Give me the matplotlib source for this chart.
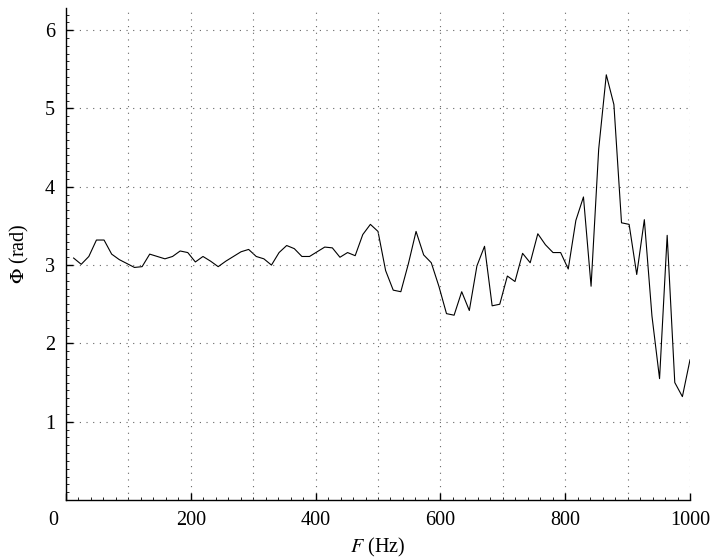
import numpy as np
import matplotlib
matplotlib.use('Agg')
import matplotlib.pyplot as plt
from matplotlib.ticker import MultipleLocator
import matplotlib.transforms as mtransforms

plt.rcParams['font.family'] = 'Liberation Serif'
plt.rcParams['mathtext.fontset'] = 'stix'

# frequency grid (82 equally spaced bins up to 1 kHz)
freq = np.linspace(1000 / 82, 1000, 82)

# phase values (rad)
phase = [
    3.09, 3.01, 3.11, 3.32, 3.32, 3.14, 3.07, 3.02, 2.97, 2.98,
    3.14, 3.11, 3.08, 3.11, 3.18, 3.16, 3.04, 3.11, 3.05, 2.98,
    3.05, 3.11, 3.17, 3.20, 3.11, 3.08, 3.00, 3.16, 3.25, 3.21,
    3.11, 3.11, 3.17, 3.23, 3.22, 3.10, 3.16, 3.12, 3.39, 3.52,
    3.43, 2.93, 2.68, 2.66, 3.02, 3.43, 3.13, 3.03, 2.73, 2.38,
    2.36, 2.66, 2.42, 2.99, 3.24, 2.48, 2.50, 2.86, 2.79, 3.15,
    3.03, 3.40, 3.26, 3.16, 3.16, 2.95, 3.57, 3.87, 2.73, 4.48,
    5.43, 5.05, 3.54, 3.52, 2.88, 3.58, 2.35, 1.55, 3.38, 1.50,
    1.32, 1.79,
]

xticks = [0, 200, 400, 600, 800, 1000]
yticks = [1, 2, 3, 4, 5, 6]

fig = plt.figure(figsize=(7.16, 5.58), dpi=100)
ax = fig.add_axes([66 / 716, 1 - 500 / 558, 624 / 716, 492 / 558])

ax.plot(freq, phase, color='black', lw=0.8)

ax.set_xlim(0, 1000)
ax.set_ylim(0, 2 * np.pi)
ax.set_xticks(xticks)
ax.set_yticks(yticks)
ax.xaxis.set_minor_locator(MultipleLocator(20))
ax.yaxis.set_minor_locator(MultipleLocator(0.1))

grid_style = dict(linestyle=(0, (1, 5)), color='#666666', lw=0.8)
ax.grid(True, which='major', **grid_style)
# extra vertical grid at the odd hundreds
for xv in range(100, 1000, 200):
    ax.axvline(xv, **grid_style)

for side in ['top', 'right']:
    ax.spines[side].set_visible(False)
ax.spines['left'].set_linewidth(1.0)
ax.spines['bottom'].set_linewidth(1.0)

ax.tick_params(which='major', direction='in', length=5, width=1.0, labelsize=14.5, pad=8)
ax.tick_params(which='minor', direction='in', length=2, width=0.6)

# shift the "0" label left, to the corner
lbl0 = ax.get_xticklabels()[0]
lbl0.set_transform(lbl0.get_transform() + mtransforms.ScaledTranslation(-13 / 100, 0, fig.dpi_scale_trans))

ax.set_xlabel(r'$F$ (Hz)', fontsize=14.5, labelpad=4)
ax.set_ylabel(r'$\mathit{\Phi}$ (rad)', fontsize=14.5, labelpad=10)

fig.savefig('out.png', dpi=100)
